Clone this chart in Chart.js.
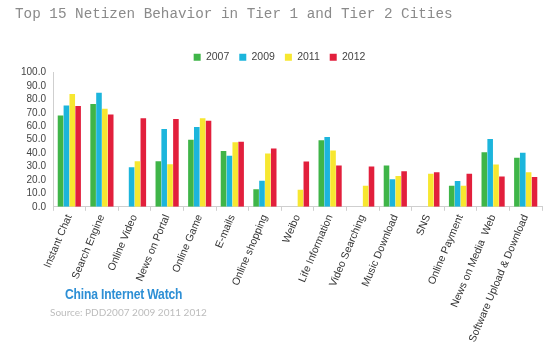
<!DOCTYPE html>
<html>
<head>
<meta charset="utf-8">
<script src="https://cdn.jsdelivr.net/npm/chart.js@4/dist/chart.umd.min.js"></script>
<style>
  html,body{margin:0;padding:0;background:#fff;}
  #wrap{position:relative;width:550px;height:351px;overflow:hidden;}
  #c{position:absolute;left:0;top:0;}
  .t{position:absolute;white-space:nowrap;}
  #title{left:15px;top:6px;font-family:"Liberation Mono",monospace;font-size:14.3px;color:#8a8a8a;}
  #ciw{left:65px;top:285px;font-family:"Liberation Sans",sans-serif;font-weight:bold;font-size:15.5px;color:#2d8fd5;transform:scaleX(0.78);transform-origin:left top;letter-spacing:-0.2px;}
  #src{left:50px;top:306px;font-family:"Lato","Liberation Sans",sans-serif;font-size:10px;color:#bdbdbd;}
</style>
</head>
<body>
<div id="wrap">
  <canvas id="c" width="550" height="351"></canvas>
  <div class="t" id="title">Top 15 Netizen Behavior in Tier 1 and Tier 2 Cities</div>
  <div class="t" id="ciw">China Internet Watch</div>
  <div class="t" id="src">Source: PDD2007 2009 2011 2012</div>
</div>
<script>
const categories = ["Instant Chat","Search Engine","Online Video","News on Portal","Online Game","E-mails","Online shopping","Weibo","Life Information","Video Searching","Music Download","SNS","Online Payment","News on Media  Web","Software Upload & Download"];
const seriesNames = ["2007","2009","2011","2012"];
const v2007 = [68, 76.5, 0, 34, 50, 41.5, 13, 0, 49.5, 0, 30.7, 0, 15.7, 40.7, 36.5];
const v2009 = [75.5, 85, 29.5, 58, 59.5, 38, 19.5, 0, 52, 0, 20.5, 0, 19.2, 50.5, 40.2];
const v2011 = [84, 73, 34, 31.7, 66, 48, 39.7, 12.7, 42, 15.7, 23, 24.7, 15.7, 31.5, 25.7];
const v2012 = [75, 68.7, 66, 65.4, 64, 48.5, 43.5, 33.7, 30.7, 30, 26.5, 25.7, 24.7, 22.5, 22.2];
const yTicks = [0,10,20,30,40,50,60,70,80,90,100];

const colors = ["#3fb548","#1cb5dc","#f7e730","#e21f3c"];
const allValues = [v2007, v2009, v2011, v2012];

new Chart(document.getElementById('c'), {
  type: 'bar',
  data: {
    labels: categories,
    datasets: seriesNames.map((n,i)=>({
      label: n,
      data: allValues[i],
      backgroundColor: colors[i],
      borderWidth: 0,
      barPercentage: 0.95,
      categoryPercentage: 0.72
    }))
  },
  options: {
    responsive: false,
    animation: false,
    layout: { padding: { top: 42, left: 17, right: 8, bottom: 5 } },
    plugins: {
      legend: {
        position: 'top',
        labels: {
          boxWidth: 7, boxHeight: 7, padding: 10,
          font: { family: 'Liberation Sans', size: 10.5 },
          color: '#444'
        }
      },
      tooltip: { enabled: false }
    },
    scales: {
      y: {
        min: 0, max: 100,
        afterBuildTicks: ax => { ax.ticks = yTicks.map(v=>({value:v})); },
        ticks: {
          autoSkip: false,
          callback: v => Number(v).toFixed(1),
          font: { family: 'Liberation Sans', size: 10 },
          color: '#444', padding: 4
        },
        grid: { display: false, drawTicks: true, tickLength: 3, color: '#ccc' },
        border: { display: true, color: '#cfcfcf' }
      },
      x: {
        ticks: {
          autoSkip: false,
          minRotation: 67, maxRotation: 67,
          font: { family: 'Liberation Sans', size: 10.5 },
          color: '#333', padding: 2
        },
        grid: { offset: true, drawOnChartArea: false, tickLength: 4, color: '#cfcfcf' },
        border: { display: true, color: '#cfcfcf' }
      }
    }
  }
});
</script>
</body>
</html>
